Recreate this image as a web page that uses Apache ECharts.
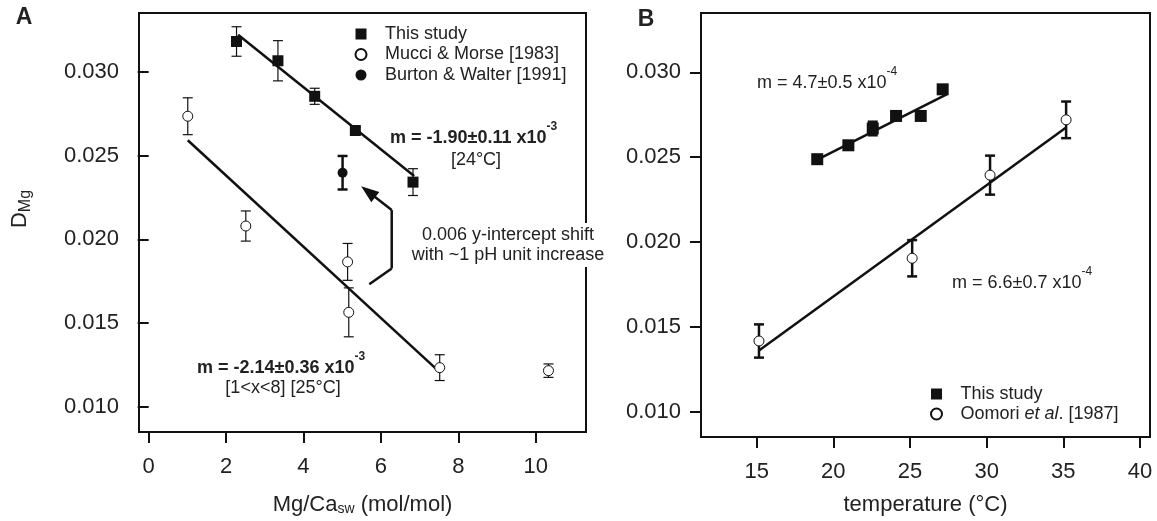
<!DOCTYPE html>
<html><head><meta charset="utf-8">
<script src="https://cdn.jsdelivr.net/npm/echarts@6/dist/echarts.min.js"></script>
<style>html,body{margin:0;padding:0;background:#fff}#c{width:1157px;height:521px}</style>
</head><body><div id="c"></div>
<script>
// ---- tick labels ----
const xTicksA = [0, 2, 4, 6, 8, 10];
const xTicksB = [15, 20, 25, 30, 35, 40];
const yTicks = [0.010, 0.015, 0.020, 0.025, 0.030];

// ---- Panel A : [Mg/Ca_sw, D_Mg, error] ----
const thisStudyA = [[2.27,0.0318,0.00088],[3.34,0.03065,0.0012],[4.29,0.02853,0.00048],[5.34,0.02649,0.0002],[6.83,0.02341,0.0008]];
const mucciMorse = [[1.01,0.02734,0.0011],[2.51,0.02079,0.0009],[5.14,0.01865,0.0011],[5.17,0.01564,0.00146],[7.52,0.01234,0.00077],[10.33,0.01216,0.0004]];
const burtonWalter = [[5.01,0.02397,0.0010]];
const fitThisA = [[2.31,0.0322],[6.86,0.02377]];
const fitMucci = [[1.01,0.02591],[7.52,0.01207]];
const shiftArrow = [[5.70,0.01732],[6.28,0.01826],[6.28,0.02174],[5.49,0.02317]];

// ---- Panel B : [temperature, D_Mg, error] ----
const thisStudyB = [[18.95,0.02488,0.0002],[20.98,0.0257,0.0002],[22.57,0.02669,0.0004],[24.09,0.02743,0.0002],[25.7,0.02743,0.0002],[27.13,0.0290,0.0002]];
const oomori = [[15.15,0.01416,0.00098],[25.14,0.01904,0.00107],[30.22,0.02394,0.00115],[35.18,0.0272,0.00108]];
const fitThisB = [[18.8,0.02478],[27.39,0.0287]];
const fitOomori = [[15.15,0.0136],[35.18,0.02675]];

const FONT = 'Liberation Sans, Arial, Helvetica, sans-serif';
const INK = '#111';
const TXT = '#222';

const chart = echarts.init(document.getElementById('c'), null, {renderer: 'canvas'});

function xy(arr){ return arr.map(d => [d[0], d[1]]); }

function errRender(capW, lw){
  return function(params, api){
    const x = api.value(0), y = api.value(1), e = api.value(2);
    const t = api.coord([x, y + e]), b = api.coord([x, y - e]);
    const h = capW / 2;
    const st = {stroke: INK, lineWidth: lw};
    return {type: 'group', children: [
      {type: 'line', shape: {x1: t[0], y1: t[1], x2: b[0], y2: b[1]}, style: st},
      {type: 'line', shape: {x1: t[0]-h, y1: t[1], x2: t[0]+h, y2: t[1]}, style: st},
      {type: 'line', shape: {x1: b[0]-h, y1: b[1], x2: b[0]+h, y2: b[1]}, style: st}
    ]};
  };
}

function errSeries(data, xi, capW, lw){
  return {type: 'custom', xAxisIndex: xi, yAxisIndex: xi, data: data,
    encode: {x: 0, y: 1}, renderItem: errRender(capW, lw), z: 2, silent: true};
}

function fitSeries(data, xi){
  return {type: 'line', xAxisIndex: xi, yAxisIndex: xi, data: data, symbol: 'none',
    lineStyle: {color: INK, width: 2.5}, z: 3, silent: true, animation: false};
}

function arrowRender(params, api){
  const i = params.dataIndex;
  const n = shiftArrow.length;
  const st = {stroke: INK, lineWidth: 2.5};
  if (i < n - 2) {
    const a = api.coord(shiftArrow[i]), b = api.coord(shiftArrow[i+1]);
    return {type: 'line', shape: {x1: a[0], y1: a[1], x2: b[0], y2: b[1]}, style: st};
  }
  if (i === n - 2) {
    const a = api.coord(shiftArrow[i]), tip = api.coord(shiftArrow[i+1]);
    const dx = tip[0]-a[0], dy = tip[1]-a[1], L = Math.hypot(dx, dy);
    const ux = dx/L, uy = dy/L, hl = 18, hw = 6.5;
    const bx = tip[0]-ux*hl, by = tip[1]-uy*hl;
    return {type: 'group', children: [
      {type: 'line', shape: {x1: a[0], y1: a[1], x2: bx+ux*2, y2: by+uy*2}, style: st},
      {type: 'polygon', shape: {points: [[tip[0], tip[1]], [bx - uy*hw, by + ux*hw], [bx + uy*hw, by - ux*hw]]}, style: {fill: INK}}
    ]};
  }
  return null;
}

function xAxisCfg(gi, min, max, ticks, nameRich, gap){
  return {type: 'value', gridIndex: gi, min: min, max: max,
    axisLine: {show: false}, splitLine: {show: false},
    axisTick: {show: true, inside: false, length: 11, customValues: ticks, lineStyle: {color: INK, width: 2}},
    axisLabel: {customValues: ticks, margin: 24, fontSize: 22, color: TXT, fontFamily: FONT},
    name: nameRich, nameLocation: 'middle', nameGap: gap,
    nameTextStyle: {fontSize: 22, color: TXT, fontFamily: FONT,
      rich: {n: {fontSize: 22, color: TXT, fontFamily: FONT}, sub: {fontSize: 14, color: TXT, fontFamily: FONT, verticalAlign: 'bottom', lineHeight: 16, padding: [14,0,0,0]}}}
  };
}
function yAxisCfg(gi){
  return {type: 'value', gridIndex: gi, min: 0.0085, max: 0.0335,
    axisLine: {show: false}, splitLine: {show: false},
    axisTick: {show: true, inside: false, length: 11, customValues: yTicks, lineStyle: {color: INK, width: 2}},
    axisLabel: {customValues: yTicks, margin: 20, fontSize: 22, color: TXT, fontFamily: FONT, formatter: v => v.toFixed(3)}
  };
}

const supRich = {
  b: {fontSize: 18, fontWeight: 'bold', color: TXT, fontFamily: FONT, lineHeight: 34},
  r: {fontSize: 18, color: TXT, fontFamily: FONT, lineHeight: 34},
  s: {fontSize: 12, color: TXT, fontFamily: FONT, lineHeight: 12, verticalAlign: 'top'},
  sb: {fontSize: 12, fontWeight: 'bold', color: TXT, fontFamily: FONT, lineHeight: 12, verticalAlign: 'top'}
};
function txt(x, y, text, opts){
  return Object.assign({type: 'text', x: x, y: y, z: 100, silent: true,
    style: Object.assign({text: text, fill: TXT, font: '18px ' + FONT, textAlign: 'left', textVerticalAlign: 'middle', verticalAlign: 'middle', rich: supRich}, opts || {})});
}

const option = {
  animation: false,
  backgroundColor: '#fff',
  textStyle: {fontFamily: FONT},
  grid: [
    {left: 139, top: 13, width: 447, height: 420, show: true, borderColor: INK, borderWidth: 2, backgroundColor: 'transparent'},
    {left: 701, top: 13, width: 449, height: 426, show: true, borderColor: INK, borderWidth: 2, backgroundColor: 'transparent'}
  ],
  xAxis: [
    xAxisCfg(0, -0.25, 11.3, xTicksA, '{n|Mg/Ca}{sub|sw}{n| (mol/mol)}', 62),
    xAxisCfg(1, 11.37, 40.65, xTicksB, '{n|temperature (°C)}', 57)
  ],
  yAxis: [yAxisCfg(0), yAxisCfg(1)],
  legend: [
    {data: [{name: 'This study', icon: 'path://M0 0H10V10H0Z'}, 'Mucci & Morse [1983]', 'Burton & Walter [1991]'],
     orient: 'vertical', left: 349.5, top: 20, itemWidth: 38, itemHeight: 11, itemGap: 2.5, selectedMode: false,
     textStyle: {fontSize: 18, color: TXT, fontFamily: FONT, lineHeight: 18}},
    {data: [{name: 'This study', icon: 'path://M0 0H10V10H0Z'}, 'Oomori et al. [1987]'],
     orient: 'vertical', left: 925, top: 380, itemWidth: 38, itemHeight: 11, itemGap: 2, selectedMode: false,
     formatter: function(name){ return name === 'Oomori et al. [1987]' ? '{n|Oomori }{i|et al}{n|. [1987]}' : '{n|' + name + '}'; },
     textStyle: {fontSize: 18, color: TXT, fontFamily: FONT, lineHeight: 18,
       rich: {n: {fontSize: 18, color: TXT, fontFamily: FONT, lineHeight: 18}, i: {fontSize: 18, fontStyle: 'italic', color: TXT, fontFamily: FONT, lineHeight: 18}}}}
  ],
  series: [
    // Panel A
    fitSeries(fitThisA, 0),
    fitSeries(fitMucci, 0),
    errSeries(thisStudyA, 0, 10, 1.2),
    errSeries(mucciMorse, 0, 10, 1.2),
    errSeries(burtonWalter, 0, 10, 2.5),
    {type: 'custom', xAxisIndex: 0, yAxisIndex: 0, data: shiftArrow, encode: {x: 0, y: 1}, renderItem: arrowRender, z: 3, silent: true},
    {name: 'This study', type: 'scatter', xAxisIndex: 0, yAxisIndex: 0, data: xy(thisStudyA), symbol: 'rect', symbolSize: 11,
     itemStyle: {color: INK, opacity: 1}, z: 5, silent: true},
    {name: 'Mucci & Morse [1983]', type: 'scatter', xAxisIndex: 0, yAxisIndex: 0, data: xy(mucciMorse), symbol: 'circle', symbolSize: 10,
     itemStyle: {color: '#fff', borderColor: INK, borderWidth: 1, opacity: 1}, z: 5, silent: true},
    {name: 'Burton & Walter [1991]', type: 'scatter', xAxisIndex: 0, yAxisIndex: 0, data: xy(burtonWalter), symbol: 'circle', symbolSize: 10,
     itemStyle: {color: INK, opacity: 1}, z: 5, silent: true},
    // Panel B
    fitSeries(fitThisB, 1),
    fitSeries(fitOomori, 1),
    errSeries(thisStudyB, 1, 10, 2.5),
    errSeries(oomori, 1, 10, 2.5),
    {name: 'This study', type: 'scatter', xAxisIndex: 1, yAxisIndex: 1, data: xy(thisStudyB), symbol: 'rect', symbolSize: 12,
     itemStyle: {color: INK, opacity: 1}, z: 5, silent: true},
    {name: 'Oomori et al. [1987]', type: 'scatter', xAxisIndex: 1, yAxisIndex: 1, data: xy(oomori), symbol: 'circle', symbolSize: 10,
     itemStyle: {color: '#fff', borderColor: INK, borderWidth: 1, opacity: 1}, z: 5, silent: true}
  ],
  graphic: [
    txt(24, 18, 'A', {font: 'bold 23px ' + FONT, textAlign: 'center', rich: null}),
    txt(646, 20, 'B', {font: 'bold 23px ' + FONT, textAlign: 'center', rich: null}),
    {type: 'text', x: 20, y: 209, rotation: Math.PI / 2, z: 100, silent: true,
     style: {text: '{d|D}{m|Mg}', textAlign: 'center', textVerticalAlign: 'middle', verticalAlign: 'middle', fill: TXT,
       rich: {d: {fontSize: 22, color: TXT, fontFamily: FONT, lineHeight: 28}, m: {fontSize: 16, color: TXT, fontFamily: FONT, lineHeight: 16, verticalAlign: 'bottom'}}}},
    txt(390, 138, '{b|m = -1.90±0.11 x10}{sb|-3}'),
    txt(476, 160, '[24°C]', {textAlign: 'center', rich: null}),
    txt(197, 368, '{b|m = -2.14±0.36 x10}{sb|-3}'),
    txt(283, 388, '[1<x<8] [25°C]', {textAlign: 'center', rich: null}),
    txt(508, 245, '0.006 y-intercept shift\nwith ~1 pH unit increase', {textAlign: 'center', rich: null, lineHeight: 20, backgroundColor: '#fff', padding: [2, 2, 2, 2]}),
    txt(757, 83, '{r|m = 4.7±0.5 x10}{s|-4}'),
    txt(952, 283, '{r|m = 6.6±0.7 x10}{s|-4}')
  ]
};
chart.setOption(option);
</script>
</body></html>
